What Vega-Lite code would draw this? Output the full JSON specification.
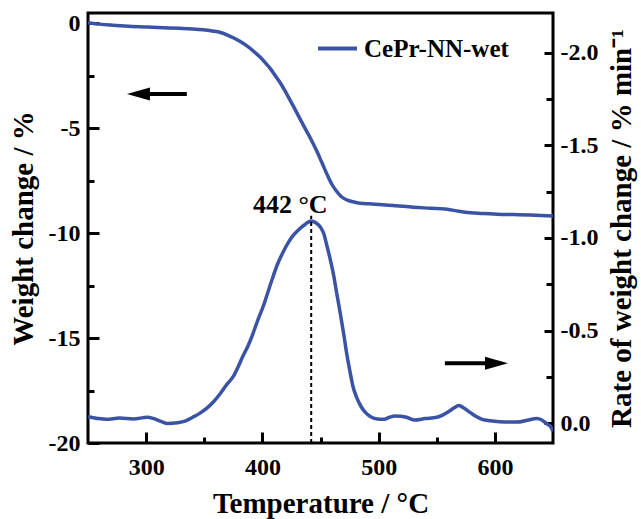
{
  "$schema": "https://vega.github.io/schema/vega-lite/v6.json",
  "autosize": "none",
  "width": 465,
  "height": 430,
  "padding": {"left": 88, "top": 13, "right": 88, "bottom": 76},
  "config": {
    "view": {"stroke": "black", "strokeWidth": 3},
    "font": "Liberation Serif",
    "axis": {
      "labelFont": "Liberation Serif", "labelFontWeight": "bold", "labelFontSize": 24, "labelColor": "black",
      "titleFont": "Liberation Serif", "titleFontWeight": "bold", "titleFontSize": 29, "titleColor": "black",
      "tickColor": "black", "tickWidth": 3, "domain": false, "grid": false, "labelFlush": false, "labelOverlap": false
    }
  },
  "datasets": {
    "tg": [
      {"T": 250, "W": 0.02}, {"T": 260, "W": -0.05}, {"T": 271, "W": -0.10}, {"T": 285, "W": -0.15},
      {"T": 301, "W": -0.19}, {"T": 315, "W": -0.22}, {"T": 329, "W": -0.25}, {"T": 340, "W": -0.28},
      {"T": 349, "W": -0.32}, {"T": 357, "W": -0.38}, {"T": 364, "W": -0.45}, {"T": 370, "W": -0.57},
      {"T": 375, "W": -0.70}, {"T": 381, "W": -0.88}, {"T": 387, "W": -1.10}, {"T": 392, "W": -1.32},
      {"T": 398, "W": -1.62}, {"T": 403, "W": -1.92}, {"T": 407, "W": -2.18}, {"T": 411, "W": -2.50},
      {"T": 416, "W": -2.90}, {"T": 421, "W": -3.38}, {"T": 428, "W": -4.10}, {"T": 435, "W": -4.84},
      {"T": 441, "W": -5.45}, {"T": 447, "W": -6.12}, {"T": 451, "W": -6.62}, {"T": 456, "W": -7.25},
      {"T": 460, "W": -7.70}, {"T": 464, "W": -8.02}, {"T": 468, "W": -8.27}, {"T": 473, "W": -8.43},
      {"T": 478, "W": -8.51}, {"T": 484, "W": -8.58}, {"T": 492, "W": -8.61}, {"T": 501, "W": -8.64},
      {"T": 515, "W": -8.70}, {"T": 530, "W": -8.77}, {"T": 545, "W": -8.82}, {"T": 559, "W": -8.87},
      {"T": 569, "W": -8.96}, {"T": 579, "W": -9.03}, {"T": 590, "W": -9.07}, {"T": 602, "W": -9.10},
      {"T": 616, "W": -9.12}, {"T": 630, "W": -9.14}, {"T": 640, "W": -9.16}, {"T": 650, "W": -9.19}
    ],
    "dtg": [
      {"T": 250, "R": -0.034}, {"T": 258, "R": -0.025}, {"T": 266, "R": -0.020}, {"T": 277, "R": -0.027},
      {"T": 289, "R": -0.022}, {"T": 301, "R": -0.031}, {"T": 306, "R": -0.025}, {"T": 312, "R": -0.010},
      {"T": 318, "R": 0.002}, {"T": 327, "R": -0.002}, {"T": 334, "R": -0.012}, {"T": 340, "R": -0.031},
      {"T": 346, "R": -0.052}, {"T": 352, "R": -0.079}, {"T": 358, "R": -0.115}, {"T": 364, "R": -0.161},
      {"T": 369, "R": -0.205}, {"T": 375, "R": -0.252}, {"T": 379, "R": -0.302}, {"T": 383, "R": -0.358},
      {"T": 388, "R": -0.422}, {"T": 392, "R": -0.485}, {"T": 396, "R": -0.555}, {"T": 401, "R": -0.635},
      {"T": 405, "R": -0.712}, {"T": 409, "R": -0.788}, {"T": 413, "R": -0.858}, {"T": 418, "R": -0.926},
      {"T": 422, "R": -0.972}, {"T": 426, "R": -1.010}, {"T": 431, "R": -1.043}, {"T": 435, "R": -1.065},
      {"T": 438, "R": -1.080}, {"T": 442, "R": -1.092}, {"T": 446, "R": -1.082}, {"T": 450, "R": -1.058},
      {"T": 453, "R": -1.020}, {"T": 455, "R": -0.971}, {"T": 458, "R": -0.895}, {"T": 461, "R": -0.809},
      {"T": 464, "R": -0.700}, {"T": 467, "R": -0.593}, {"T": 470, "R": -0.480}, {"T": 472.5, "R": -0.377},
      {"T": 475, "R": -0.290}, {"T": 478, "R": -0.196}, {"T": 481, "R": -0.140}, {"T": 485, "R": -0.088},
      {"T": 489, "R": -0.055}, {"T": 494, "R": -0.031}, {"T": 499, "R": -0.022}, {"T": 504, "R": -0.020},
      {"T": 509, "R": -0.030}, {"T": 514, "R": -0.038}, {"T": 519, "R": -0.036}, {"T": 524, "R": -0.031},
      {"T": 531, "R": -0.016}, {"T": 540, "R": -0.024}, {"T": 550, "R": -0.031}, {"T": 555, "R": -0.043},
      {"T": 560, "R": -0.061}, {"T": 565, "R": -0.082}, {"T": 569, "R": -0.095}, {"T": 574, "R": -0.078},
      {"T": 579, "R": -0.056}, {"T": 584, "R": -0.035}, {"T": 589, "R": -0.020}, {"T": 596, "R": -0.012},
      {"T": 604, "R": -0.007}, {"T": 612, "R": -0.005}, {"T": 619, "R": -0.005}, {"T": 628, "R": -0.015},
      {"T": 636, "R": -0.025}, {"T": 640, "R": -0.018}, {"T": 643, "R": -0.004}, {"T": 646, "R": 0.010},
      {"T": 648, "R": 0.020}, {"T": 650, "R": 0.045}
    ]
  },
  "resolve": {"scale": {"y": "independent"}, "axis": {"x": "independent", "y": "independent"}},
  "layer": [
    {
      "data": {"name": "tg"},
      "mark": {"type": "line", "strokeWidth": 3.5, "interpolate": "monotone", "clip": true},
      "encoding": {
        "x": {"field": "T", "type": "quantitative",
          "scale": {"domain": [250, 650], "nice": false, "zero": false},
          "axis": {"orient": "bottom", "values": [300, 400, 500, 600], "tickSize": -11, "labelPadding": 23, "format": "d", "title": "Temperature / °C", "titlePadding": 10}},
        "y": {"field": "W", "type": "quantitative",
          "scale": {"domain": [-20, 0.48], "nice": false, "zero": false},
          "axis": {"orient": "left", "values": [0, -5, -10, -15, -20], "tickSize": -11, "labelPadding": 19, "format": "d", "labelExpr": "replace(datum.label, '−', '-')", "title": "Weight change / %", "titlePadding": 10}},
        "color": {"datum": "CePr-NN-wet", "type": "nominal",
          "scale": {"range": ["#3a53a4"]},
          "legend": {"orient": "none", "legendX": 228, "legendY": 14, "title": null, "symbolType": "stroke", "symbolSize": 1521, "symbolStrokeWidth": 4, "labelFont": "Liberation Serif", "labelFontWeight": "bold", "labelFontSize": 25, "labelColor": "black", "labelOffset": 5, "padding": 0}}
      }
    },
    {
      "data": {"name": "dtg"},
      "mark": {"type": "line", "strokeWidth": 3.5, "interpolate": "monotone", "color": "#3a53a4", "clip": true},
      "encoding": {
        "x": {"field": "T", "type": "quantitative", "axis": null},
        "y": {"field": "R", "type": "quantitative",
          "scale": {"domain": [0.108, -2.216], "nice": false, "zero": false},
          "axis": {"orient": "right", "values": [0, -0.5, -1, -1.5, -2], "tickSize": -9, "labelPadding": 16, "format": ".1f", "labelExpr": "replace(datum.label, '−', '-')", "title": "Rate of weight change / % min⁻¹", "titleAngle": 270, "titlePadding": 39}}
      }
    },
    {
      "data": {"values": [{"T": 442, "y1": 0.108, "y2": -1.12}]},
      "mark": {"type": "rule", "color": "black", "strokeWidth": 2, "strokeDash": [4, 3]},
      "encoding": {
        "x": {"field": "T", "type": "quantitative",
          "axis": {"orient": "bottom", "values": [350, 450, 550], "tickSize": -6, "labels": false, "title": null}},
        "y": {"field": "y1", "type": "quantitative",
          "scale": {"domain": [0.108, -2.216], "nice": false, "zero": false},
          "axis": {"orient": "right", "values": [-0.25, -0.75, -1.25, -1.75], "tickSize": -7, "labels": false, "title": null}},
        "y2": {"field": "y2"}
      }
    },
    {
      "data": {"values": [{"x1": 293, "x2": 335, "W": -3.38}]},
      "mark": {"type": "rule", "color": "black", "strokeWidth": 4},
      "encoding": {
        "x": {"field": "x1", "type": "quantitative", "axis": null},
        "x2": {"field": "x2"},
        "y": {"field": "W", "type": "quantitative",
          "scale": {"domain": [-20, 0.48], "nice": false, "zero": false},
          "axis": {"orient": "left", "values": [-2.5, -7.5, -12.5, -17.5], "tickSize": -6, "labels": false, "title": null}}
      }
    },
    {
      "data": {"values": [{"T": 293.4, "W": -3.38}]},
      "mark": {"type": "point", "shape": "M -1 0 L 1 -0.57 L 1 0.57 Z", "size": 529, "filled": true, "color": "black", "opacity": 1},
      "encoding": {
        "x": {"field": "T", "type": "quantitative", "axis": null},
        "y": {"field": "W", "type": "quantitative",
          "scale": {"domain": [-20, 0.48], "nice": false, "zero": false}, "axis": null}
      }
    },
    {
      "data": {"values": [{"x1": 557, "x2": 593, "R": -0.323}]},
      "mark": {"type": "rule", "color": "black", "strokeWidth": 4},
      "encoding": {
        "x": {"field": "x1", "type": "quantitative", "axis": null},
        "x2": {"field": "x2"},
        "y": {"field": "R", "type": "quantitative",
          "scale": {"domain": [0.108, -2.216], "nice": false, "zero": false}, "axis": null}
      }
    },
    {
      "data": {"values": [{"T": 601.4, "R": -0.323}]},
      "mark": {"type": "point", "shape": "M 1 0 L -1 -0.57 L -1 0.57 Z", "size": 529, "filled": true, "color": "black", "opacity": 1},
      "encoding": {
        "x": {"field": "T", "type": "quantitative", "axis": null},
        "y": {"field": "R", "type": "quantitative",
          "scale": {"domain": [0.108, -2.216], "nice": false, "zero": false}, "axis": null}
      }
    },
    {
      "data": {"values": [{"T": 424, "R": -1.135, "label": "442 °C"}]},
      "mark": {"type": "text", "align": "center", "baseline": "alphabetic", "font": "Liberation Serif", "fontWeight": "bold", "fontSize": 26, "color": "black"},
      "encoding": {
        "x": {"field": "T", "type": "quantitative", "axis": null},
        "y": {"field": "R", "type": "quantitative",
          "scale": {"domain": [0.108, -2.216], "nice": false, "zero": false}, "axis": null},
        "text": {"field": "label"}
      }
    }
  ]
}
